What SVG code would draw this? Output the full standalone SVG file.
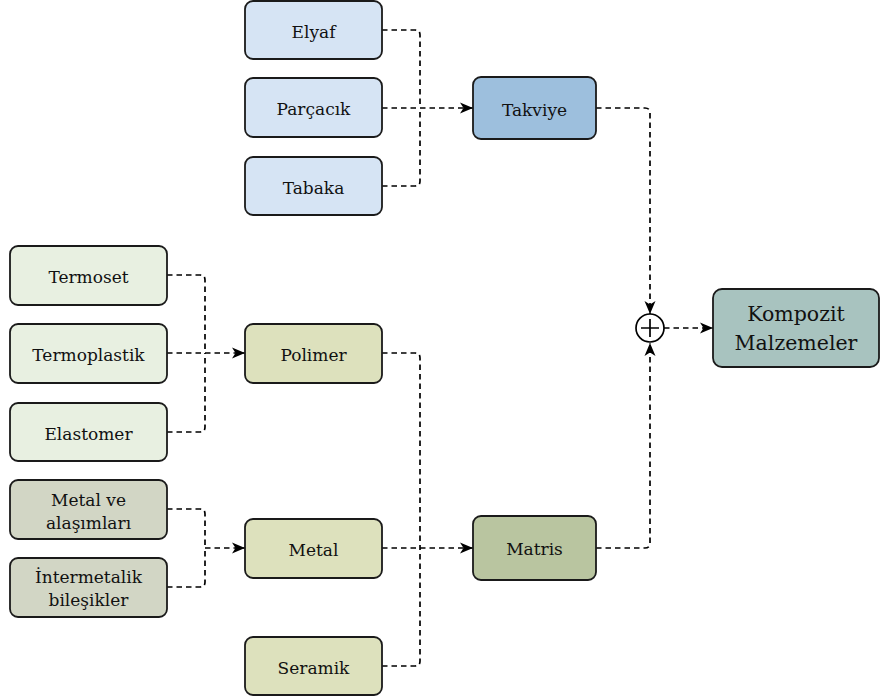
<svg xmlns="http://www.w3.org/2000/svg" width="881" height="699" viewBox="0 0 881 699">
<defs>
<style>
.n rect{stroke:#1a1a1a;stroke-width:1.8}
text{font-family:"DejaVu Serif","Liberation Serif",serif;font-size:17px;fill:#111;text-anchor:middle}
.big{font-size:20.5px}
.c{fill:none;stroke:#000;stroke-width:1.7;stroke-dasharray:5.5 4}
.a{marker-end:url(#arr)}
</style>
<marker id="arr" markerUnits="userSpaceOnUse" markerWidth="14" markerHeight="12" viewBox="0 0 14 12" refX="13" refY="6" orient="auto">
<path d="M0,0.5 L13,6 L0,11.5 L3.5,6 z" fill="#000"/>
</marker>
</defs>
<rect width="881" height="699" fill="#fff"/>
<g id="connectors">
<path class="c" d="M382,30 H415 Q420,30 420,35 V108"/>
<path class="c" d="M382,186 H415 Q420,186 420,181 V108"/>
<path class="c a" d="M382,108 H473"/>
<path class="c a" d="M596,108 H645 Q650,108 650,113 V314"/>
<path class="c" d="M167,275 H200 Q205,275 205,280 V353"/>
<path class="c" d="M167,432 H200 Q205,432 205,427 V353"/>
<path class="c a" d="M167,353 H245"/>
<path class="c" d="M382,353 H415 Q420,353 420,358 V548"/>
<path class="c" d="M382,666 H415 Q420,666 420,661 V548"/>
<path class="c a" d="M382,548 H473"/>
<path class="c" d="M167,509 H200 Q205,509 205,514 V548"/>
<path class="c" d="M167,587 H200 Q205,587 205,582 V548"/>
<path class="c a" d="M205,548 H245"/>
<path class="c a" d="M596,548 H645 Q650,548 650,543 V343"/>
<path class="c a" d="M664,328 H713"/>
</g>
<g id="elyaf" class="n"><rect x="245" y="1" width="137" height="58" rx="8" fill="#d6e4f4"/><text x="313.5" y="37.5">Elyaf</text></g>
<g id="parcacik" class="n"><rect x="245" y="78" width="137" height="59" rx="8" fill="#d6e4f4"/><text x="313.5" y="115">Parçacık</text></g>
<g id="tabaka" class="n"><rect x="245" y="157" width="137" height="58" rx="8" fill="#d6e4f4"/><text x="313.5" y="193.5">Tabaka</text></g>
<g id="takviye" class="n"><rect x="473" y="77" width="123" height="62" rx="8" fill="#9dbfdd"/><text x="534.5" y="115.5">Takviye</text></g>
<g id="termoset" class="n"><rect x="10" y="246" width="157" height="59" rx="8" fill="#e8f0e1"/><text x="88.5" y="283">Termoset</text></g>
<g id="termoplastik" class="n"><rect x="10" y="324" width="157" height="59" rx="8" fill="#e8f0e1"/><text x="88.5" y="361">Termoplastik</text></g>
<g id="elastomer" class="n"><rect x="10" y="403" width="157" height="58" rx="8" fill="#e8f0e1"/><text x="88.5" y="439.5">Elastomer</text></g>
<g id="polimer" class="n"><rect x="245" y="324" width="137" height="59" rx="8" fill="#dde1bd"/><text x="313.5" y="361">Polimer</text></g>
<g id="metalve" class="n"><rect x="10" y="480" width="157" height="59" rx="8" fill="#d2d6c5"/><text x="88.5" y="506">Metal ve</text><text x="88.5" y="529">alaşımları</text></g>
<g id="intermetalik" class="n"><rect x="10" y="558" width="157" height="59" rx="8" fill="#d2d6c5"/><text x="88.5" y="583">İntermetalik</text><text x="88.5" y="606">bileşikler</text></g>
<g id="metal" class="n"><rect x="245" y="519" width="137" height="59" rx="8" fill="#dde1bd"/><text x="313.5" y="556">Metal</text></g>
<g id="seramik" class="n"><rect x="245" y="637" width="137" height="58" rx="8" fill="#dde1bd"/><text x="313.5" y="673.5">Seramik</text></g>
<g id="matris" class="n"><rect x="473" y="516" width="123" height="64" rx="8" fill="#b9c5a0"/><text x="534.5" y="555">Matris</text></g>
<g id="kompozit" class="n"><rect x="713" y="289" width="166" height="78" rx="9" fill="#a8c3bf"/><text class="big" x="796" y="321">Kompozit</text><text class="big" x="796" y="350">Malzemeler</text></g>
<g id="sum"><circle cx="650" cy="328" r="14" fill="#fff" stroke="#000" stroke-width="1.7"/><path d="M641,328 H659 M650,319 V337" stroke="#000" stroke-width="1.7"/></g>
</svg>
